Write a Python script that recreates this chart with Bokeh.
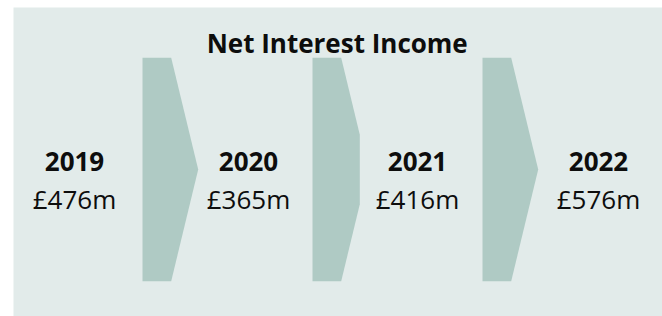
from bokeh.plotting import figure
from bokeh.models import Range1d, ColumnDataSource
from bokeh.core.properties import value
from bokeh.embed import file_html
from bokeh.resources import INLINE

# ---- data ----
title_text = "Net Interest Income"
years = ["2019", "2020", "2021", "2022"]
nii_values = [476, 365, 416, 576]  # £m
value_labels = ["£%dm" % v for v in nii_values]

# ---- layout (pixel-like coordinates, y grows downwards) ----
PANEL = "#E2EBEA"
CHEVRON = "#AFCAC4"
TEXT = "#0D0D0D"
FONT = "Open Sans"

label_x = [74, 248, 417, 598]
year_baseline = 160.7
value_baseline = 198.5

chev_left0, chev_step = 142.0, 170.0
chev_flat, chev_depth = 28.7, 27.0
chev_top, chev_bottom = 57.3, 280.7
chev_clip = {1: 47.3}  # middle chevron is cut flat at the right

p = figure(width=662, height=316, output_backend="svg", toolbar_location=None,
           x_range=Range1d(13, 662), y_range=Range1d(316, 7),
           min_border_left=13, min_border_right=0, min_border_top=7, min_border_bottom=0,
           background_fill_color=PANEL, border_fill_color="white")
p.axis.visible = False
p.grid.visible = False
p.outline_line_color = None

# chevrons between successive years
xs, ys = [], []
mid = (chev_top + chev_bottom) / 2
half = (chev_bottom - chev_top) / 2
for i in range(len(years) - 1):
    L = chev_left0 + chev_step * i
    if i in chev_clip:
        c = chev_clip[i]
        dy = (c - chev_flat) / chev_depth * half
        px = [L, L + chev_flat, L + c, L + c, L + chev_flat, L]
        py = [chev_top, chev_top, chev_top + dy, chev_bottom - dy, chev_bottom, chev_bottom]
    else:
        px = [L, L + chev_flat, L + chev_flat + chev_depth, L + chev_flat, L]
        py = [chev_top, chev_top, mid, chev_bottom, chev_bottom]
    xs.append(px)
    ys.append(py)
p.patches(xs, ys, fill_color=CHEVRON, line_color=None)

# title
p.text(x=[336.7], y=[42.7], text=[title_text], text_font=value(FONT),
       text_font_style="bold", text_font_size="26px", text_color=TEXT,
       text_align="center", text_baseline="alphabetic")

src = ColumnDataSource(dict(x=label_x, year=years, val=value_labels,
                            yb=[year_baseline] * len(years),
                            vb=[value_baseline] * len(years)))
p.text(x="x", y="yb", text="year", source=src, text_font=value(FONT),
       text_font_style="bold", text_font_size="26px", text_color=TEXT,
       text_align="center", text_baseline="alphabetic")
p.text(x="x", y="vb", text="val", source=src, text_font=value(FONT),
       text_font_size="26px", text_color=TEXT,
       text_align="center", text_baseline="alphabetic")

open("out.html", "w").write(file_html(p, INLINE))
